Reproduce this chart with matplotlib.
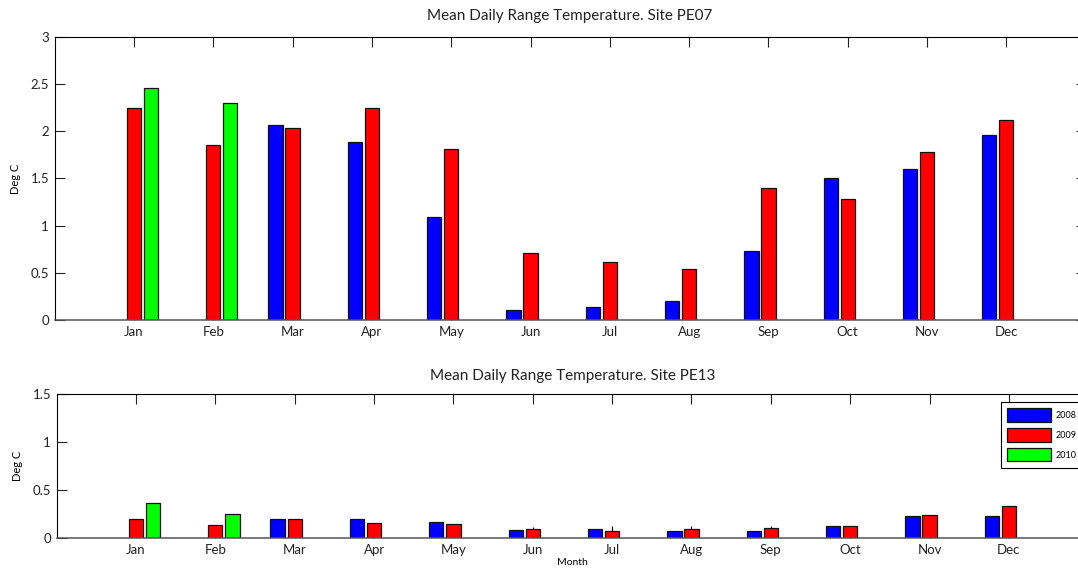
import numpy as np
import matplotlib
matplotlib.use('Agg')
from matplotlib import pyplot as plt
from matplotlib.ticker import FormatStrFormatter

plt.rcParams['font.family'] = ['Lato', 'DejaVu Sans']

months = ['Jan', 'Feb', 'Mar', 'Apr', 'May', 'Jun',
          'Jul', 'Aug', 'Sep', 'Oct', 'Nov', 'Dec']
years = ['2008', '2009', '2010']
colors = ['#0000ff', '#ff0000', '#00ff00']

nan = np.nan
# site PE07
pe07_2008 = [nan, nan, 2.07, 1.89, 1.09, 0.106, 0.14, 0.20, 0.73, 1.51, 1.60, 1.96]
pe07_2009 = [2.25, 1.855, 2.04, 2.25, 1.81, 0.71, 0.61, 0.54, 1.40, 1.28, 1.78, 2.12]
pe07_2010 = [2.46, 2.30, nan, nan, nan, nan, nan, nan, nan, nan, nan, nan]
# site PE13
pe13_2008 = [nan, nan, 0.20, 0.20, 0.16, 0.078, 0.091, 0.067, 0.067, 0.125, 0.227, 0.227]
pe13_2009 = [0.20, 0.136, 0.20, 0.157, 0.147, 0.088, 0.067, 0.088, 0.10, 0.125, 0.237, 0.33]
pe13_2010 = [0.36, 0.25, nan, nan, nan, nan, nan, nan, nan, nan, nan, nan]
# small whisker tops seen above some 2009 bars at PE13
pe13_2009_top = [nan, nan, nan, nan, nan, 0.115, 0.12, 0.12, 0.12, nan, nan, nan]

x = np.arange(1, 13)
offsets = [-0.215, 0.0, 0.215]
width = 0.18

fig = plt.figure(figsize=(10.78, 5.69), dpi=100)
ax1 = fig.add_axes([0.0507, 0.4376, 0.9564, 0.4974])
ax2 = fig.add_axes([0.0525, 0.055, 0.957, 0.252])


def draw(ax, series, ymax, title, tpad):
    handles = []
    for vals, off, c, yr in zip(series, offsets, colors, years):
        v = np.array(vals, dtype=float)
        ok = ~np.isnan(v)
        h = ax.bar(x[ok] + off, v[ok], width, color=c, edgecolor='#111111',
                   linewidth=0.9, label=yr, zorder=2)
        handles.append(h)
    ax.set_xlim(0, 13)
    ax.set_ylim(0, ymax)
    ax.set_xticks(x)
    ax.set_xticklabels(months)
    ax.set_yticks(np.arange(0, ymax + 0.01, 0.5))
    ax.yaxis.set_major_formatter(FormatStrFormatter('%g'))
    ax.tick_params(direction='in', length=7.2, width=0.8, top=True, right=True,
                   labelsize=9.5, colors='#222222')
    ax.tick_params(axis='x', pad=4.5)
    ax.tick_params(axis='y', pad=4)
    for s in ax.spines.values():
        s.set_linewidth(0.8)
        s.set_color('black')
    ax.spines['bottom'].set_color('#555555')
    ax.spines['bottom'].set_linewidth(1.1)
    ax.set_ylabel('Deg C', fontsize=8, labelpad=7)
    ax.set_title(title, fontsize=11, pad=tpad, color='#222222')
    return handles


draw(ax1, [pe07_2008, pe07_2009, pe07_2010], 3,
     'Mean Daily Range Temperature. Site PE07', 12.5)
hs = draw(ax2, [pe13_2008, pe13_2009, pe13_2010], 1.5,
          'Mean Daily Range Temperature. Site PE13', 10)

top = np.array(pe13_2009_top)
base = np.array(pe13_2009)
ok = ~np.isnan(top)
ax2.vlines(x[ok] + offsets[1], base[ok], top[ok], color='black', linewidth=0.8, zorder=3)

ax2.set_xlabel('Month', fontsize=7.5, labelpad=1.5)

leg = ax2.legend(handles=hs, loc='upper right', bbox_to_anchor=(0.995, 0.946),
                 fontsize=6.5, handlelength=4.9, handleheight=1.9,
                 labelspacing=0.72, handletextpad=0.5, borderpad=0.7,
                 fancybox=False, framealpha=1, borderaxespad=0)
leg.get_frame().set_edgecolor('black')
leg.get_frame().set_linewidth(0.8)

fig.savefig('out.png', dpi=100)
